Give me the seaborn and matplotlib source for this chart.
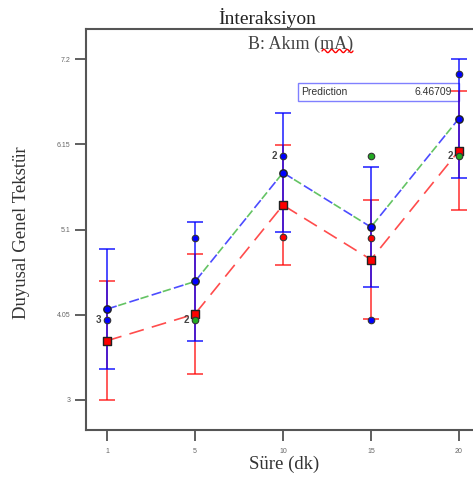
import numpy as np
import pandas as pd
import matplotlib
matplotlib.use("Agg")
import matplotlib.pyplot as plt
import seaborn as sns
from matplotlib.patches import Rectangle

# Factor A: Süre (dk), shown as equally spaced levels
sure_labels = ["1", "5", "10", "15", "20"]
yticks = [3, 4.05, 5.1, 6.15, 7.2]

# Predicted means for each level of B: Akım (mA)
blue_pred = [4.12, 4.46, 5.80, 5.13, 6.46709]
green_pred = [4.12, 4.46, 5.80, 5.13, 6.46709]
red_pred = [3.73, 4.06, 5.40, 4.73, 6.07]
lsd_half = [0.735, 0.735, 0.735, 0.735, 0.735]

# Observed design points
blue_obs_x = ["1", "5", "10", "15", "20"]
blue_obs_y = [3.99, 5.00, 6.00, 3.99, 7.01]
red_obs_x = ["10", "15"]
red_obs_y = [5.01, 5.00]
green_obs_x = ["5", "15", "20"]
green_obs_y = [3.99, 6.01, 6.00]

# Replicate counts at coincident points
count_x = ["1", "5", "10", "20"]
count_y = [3.99, 3.99, 6.00, 6.00]
count_n = ["3", "2", "2", "2"]

sns.set_theme(style="white")
plt.rcParams["font.family"] = ["Liberation Sans", "DejaVu Sans"]

pos = {lab: i for i, lab in enumerate(sure_labels)}
xp = [pos[l] for l in sure_labels]

fig = plt.figure(figsize=(4.73, 4.80), dpi=100)
W, H = 473, 480
ax = fig.add_axes([86 / W, 1 - 430 / H, (480 - 86) / W, (430 - 29) / H])

BLUE = "#0000ff"
RED = "#ff0000"
GREEN = "#22aa22"

lines = pd.DataFrame({
    "pos": xp * 3,
    "y": blue_pred + green_pred + red_pred,
    "seviye": ["B3"] * 5 + ["B2"] * 5 + ["B1"] * 5,
})

# Error bars (LSD) for low and high levels
ax.errorbar(xp, red_pred, yerr=lsd_half, fmt="none", ecolor=RED, alpha=0.65,
            elinewidth=1.4, capsize=6, capthick=1.4, zorder=2)
ax.errorbar(xp, blue_pred, yerr=lsd_half, fmt="none", ecolor=BLUE, alpha=0.7,
            elinewidth=1.4, capsize=6, capthick=1.4, zorder=2.5)

# Interaction lines
sns.lineplot(data=lines[lines.seviye == "B1"], x="pos", y="y", color=RED, alpha=0.7,
             linestyle=(0, (9, 5)), lw=1.2, estimator=None, ax=ax, legend=False, zorder=3)
sns.lineplot(data=lines[lines.seviye == "B3"], x="pos", y="y", color=BLUE, alpha=0.7,
             linestyle=(0, (6, 8)), lw=1.2, estimator=None, ax=ax, legend=False, zorder=3)
sns.lineplot(data=lines[lines.seviye == "B2"], x="pos", y="y", color=GREEN, alpha=0.7,
             linestyle=(7, (5, 9)), lw=1.2, estimator=None, ax=ax, legend=False, zorder=3)

# Predicted-mean markers
sns.scatterplot(x=xp, y=red_pred, marker="s", s=30, color=RED, edgecolor="#222222",
                linewidth=1.0, ax=ax, zorder=5, legend=False)
sns.scatterplot(x=xp, y=blue_pred, marker="o", s=28, color=BLUE, edgecolor="#222222",
                linewidth=1.0, ax=ax, zorder=5, legend=False)

# Design points
sns.scatterplot(x=[pos[l] for l in blue_obs_x], y=blue_obs_y, marker="o", s=22, color=BLUE,
                edgecolor="#333333", linewidth=0.8, ax=ax, zorder=6, legend=False)
sns.scatterplot(x=[pos[l] for l in red_obs_x], y=red_obs_y, marker="o", s=22, color=RED,
                edgecolor="#333333", linewidth=0.8, ax=ax, zorder=6, legend=False)
sns.scatterplot(x=[pos[l] for l in green_obs_x], y=green_obs_y, marker="o", s=22, color=GREEN,
                edgecolor="#333333", linewidth=0.8, ax=ax, zorder=6, legend=False)

for cx, cy, n in zip(count_x, count_y, count_n):
    ax.annotate(n, (pos[cx], cy), xytext=(-4, 0), textcoords="offset points",
                ha="right", va="center", fontsize=7, fontweight="bold", color="#444444", zorder=7)

# Prediction readout box
ax.add_patch(Rectangle((2.17, 6.682), 4.0 - 2.17, 6.904 - 6.682, facecolor="white",
                       edgecolor="#8080ff", lw=1.0, zorder=1.5))
ax.text(2.21, 6.79, "Prediction", ha="left", va="center", fontsize=7.5, color="#333333", zorder=8)
ax.text(3.92, 6.79, f"{blue_pred[4]:.5f}", ha="right", va="center", fontsize=7.5,
        color="#333333", zorder=8)

ax.set_xlim(-0.24, 4.24)
ax.set_ylim(3 - 30 / 81.19, 7.2 + 30 / 81.19)
ax.set_xticks(xp)
ax.set_xticklabels(sure_labels)
ax.set_yticks(yticks)
ax.set_yticklabels(["3", "4.05", "5.1", "6.15", "7.2"])
ax.tick_params(axis="both", which="major", direction="out", length=8, width=1.2,
               color="#444444", labelsize=5, labelcolor="#666666", pad=3,
               bottom=True, left=True)
ax.tick_params(axis="x", pad=5)
ax.set_xlabel("")
ax.set_ylabel("")
for side in ["left", "bottom", "top"]:
    ax.spines[side].set_color("#555555")
    ax.spines[side].set_linewidth(1.5)
ax.spines["right"].set_visible(False)

serif = ["Liberation Serif", "DejaVu Serif"]
fig.text(267.5 / W, 1 - 18 / H, "İnteraksiyon", ha="center", va="center",
         fontsize=14, family=serif, color="#222222")
ax.text((301 - 86) / 394, 1 - 15 / 401, "B: Akım (mA)", transform=ax.transAxes,
        ha="center", va="center", fontsize=13, family=serif, color="#444444")
# red wavy underline beneath "mA"
t = np.linspace(0, 1, 60)
ax.plot((322 - 86) / 394 + t * (31 / 394), 1 - 22 / 401 + 0.004 * np.sin(t * 2 * np.pi * 4),
        transform=ax.transAxes, color=RED, lw=1.0, clip_on=False, zorder=8)

fig.text(284.5 / W, 1 - 464 / H, "Süre (dk)", ha="center", va="center",
         fontsize=13.5, family=serif, color="#333333")
fig.text(21.5 / W, 1 - 232.5 / H, "Duyusal Genel Tekstür", ha="center", va="center",
         rotation=90, fontsize=13.5, family=serif, color="#333333")

fig.savefig("out.png", dpi=100)
